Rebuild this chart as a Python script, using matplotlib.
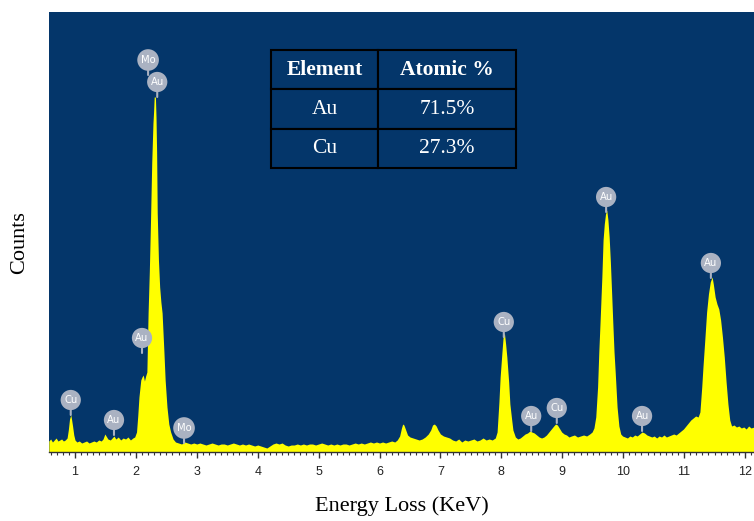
import matplotlib
matplotlib.use("Agg")
import matplotlib.pyplot as plt
from matplotlib.ticker import MultipleLocator

# EDS spectrum (energy in keV, counts in arbitrary units)
energy_kev = [
    0.57, 0.60, 0.63, 0.66, 0.69, 0.72, 0.75, 0.78, 0.81, 0.84, 0.87,
    0.89, 0.91, 0.93, 0.94, 0.96, 0.98, 1.00, 1.03,
    1.07, 1.11, 1.15, 1.19, 1.23, 1.27, 1.31, 1.35, 1.39, 1.43, 1.46, 1.49, 1.51,
    1.54, 1.58, 1.61, 1.64, 1.67, 1.71, 1.75, 1.79, 1.83, 1.87, 1.91, 1.95, 1.98,
    2.01, 2.03, 2.05, 2.08, 2.10, 2.12, 2.14, 2.16, 2.18, 2.20, 2.22, 2.24, 2.26,
    2.28, 2.29, 2.30, 2.32, 2.33, 2.34, 2.35, 2.37, 2.39, 2.41, 2.43, 2.46, 2.48,
    2.51, 2.54, 2.57, 2.61, 2.65,
    2.70, 2.75, 2.80, 2.85, 2.90, 2.95, 3.00, 3.05, 3.10, 3.15, 3.20, 3.25,
    3.30, 3.35, 3.40, 3.45, 3.50, 3.55, 3.60, 3.65, 3.70, 3.75, 3.80, 3.85,
    3.90, 3.95, 4.00, 4.05, 4.10, 4.15, 4.20, 4.25, 4.30, 4.35, 4.40, 4.45,
    4.50, 4.55, 4.60, 4.65, 4.70, 4.75, 4.80, 4.85, 4.90, 4.95, 5.00, 5.05,
    5.10, 5.15, 5.20, 5.25, 5.30, 5.35, 5.40, 5.45, 5.50, 5.55, 5.60, 5.65,
    5.70, 5.75, 5.80, 5.85, 5.90, 5.95, 6.00, 6.05, 6.10, 6.15, 6.20, 6.25,
    6.29, 6.33, 6.36, 6.38, 6.40, 6.43, 6.46, 6.50, 6.55, 6.60, 6.65, 6.70,
    6.75, 6.80, 6.84, 6.87, 6.90, 6.93, 6.96, 7.00, 7.05, 7.10, 7.15,
    7.20, 7.25, 7.30, 7.35, 7.40, 7.45, 7.50, 7.55, 7.60, 7.65, 7.70, 7.75,
    7.80, 7.85, 7.90,
    7.93, 7.96, 7.98, 8.01, 8.03, 8.05, 8.07, 8.09, 8.12, 8.14, 8.17, 8.19,
    8.23, 8.27, 8.31, 8.35, 8.39, 8.43, 8.47, 8.50, 8.54, 8.58, 8.62, 8.66,
    8.70, 8.74, 8.78, 8.82, 8.86, 8.89, 8.92, 8.95, 8.99, 9.03, 9.07, 9.11,
    9.15, 9.20, 9.25, 9.30, 9.35, 9.40, 9.45, 9.49,
    9.52, 9.55, 9.58, 9.60, 9.62, 9.65, 9.67, 9.69, 9.71, 9.73, 9.75, 9.77,
    9.79, 9.81, 9.83, 9.85, 9.87, 9.90, 9.93, 9.96, 9.99,
    10.03, 10.07, 10.11, 10.15, 10.19, 10.23, 10.27, 10.31, 10.35, 10.39,
    10.43, 10.47, 10.51, 10.55, 10.59, 10.63, 10.67, 10.71, 10.75, 10.79,
    10.83, 10.87, 10.91, 10.95, 10.99, 11.03, 11.07,
    11.11, 11.15, 11.19, 11.23, 11.26, 11.29, 11.31, 11.34, 11.37, 11.40,
    11.43, 11.46, 11.48, 11.51, 11.54, 11.57, 11.60, 11.63, 11.66, 11.69,
    11.72, 11.75, 11.78,
    11.82, 11.86, 11.90, 11.94, 11.98, 12.02, 12.06, 12.10, 12.15,
]
counts = [
    11, 13, 10, 12, 14, 11, 12, 13, 11, 12, 14,
    22, 33, 37, 34, 26, 17, 12, 10,
    11, 9, 10, 11, 9, 10, 11, 10, 12, 11, 13, 18, 16,
    13, 12, 14, 16, 13, 15, 12, 14, 13, 15, 12, 14, 15,
    20, 36, 55, 72, 75, 77, 71, 76, 80, 139, 180, 232, 290,
    329, 340, 355, 355, 335, 300, 239, 192, 165, 150, 139, 100, 72,
    45, 28, 20, 13, 10,
    9, 8, 10, 9, 8, 9, 8, 9, 8, 7, 8, 9,
    8, 7, 8, 8, 7, 8, 9, 8, 7, 8, 7, 8,
    7, 6, 7, 6, 5, 4, 6, 8, 9, 8, 9, 7,
    6, 7, 7, 8, 7, 8, 7, 8, 8, 7, 8, 9,
    8, 7, 8, 7, 8, 7, 8, 8, 7, 8, 9, 8,
    9, 8, 9, 10, 9, 10, 9, 10, 9, 10, 11, 10,
    12, 16, 24, 28, 27, 22, 17, 15, 14, 13, 12, 13,
    15, 18, 22, 27, 28, 26, 22, 18, 16, 15, 14,
    12, 11, 13, 10, 12, 11, 12, 13, 11, 12, 14, 12,
    13, 12, 14,
    20, 50, 75, 100, 116, 119, 108, 95, 70, 48, 32, 22,
    15, 13, 14, 16, 18, 19, 21, 20, 19, 17, 15, 14,
    15, 17, 20, 23, 26, 28, 27, 24, 20, 18, 17, 15,
    16, 17, 15, 16, 17, 16, 18, 20,
    24, 35, 65, 100, 129, 175, 212, 228, 238, 242, 232, 215,
    190, 160, 129, 100, 79, 45, 26, 18, 16,
    15, 14, 16, 15, 17, 16, 18, 20, 19, 17,
    16, 15, 16, 14, 16, 15, 17, 15, 16, 17,
    18, 17, 19, 21, 23, 26, 29,
    32, 34, 36, 35, 40, 65, 85, 112, 140, 158,
    170, 175, 168, 155, 148, 143, 132, 115, 95, 70,
    48, 32, 26,
    27, 25, 26, 24, 25, 23, 26, 24, 25,
]
assert len(energy_kev) == len(counts)

# peak markers: element, energy, count at the tip of the stem
peak_names = ["Cu", "Au", "Mo", "Au", "Au", "Mo", "Cu", "Au", "Cu", "Au", "Au", "Au"]
peak_kev = [0.93, 1.64, 2.20, 2.35, 2.10, 2.79, 8.04, 8.49, 8.91, 9.72, 10.31, 11.44]
peak_tip = [37, 17, 377, 355, 99, 9, 115, 21, 29, 240, 21, 174]

# composition table
table_header = ["Element", "Atomic %"]
table_elements = ["Au", "Cu"]
table_atomic = ["71.5%", "27.3%"]

bg_blue = "#04366a"
fill_yellow = "#ffff00"
tag_grey = "#aab2c2"

fig = plt.figure(figsize=(7.54, 5.21), dpi=100)
ax = fig.add_axes([49 / 754, 69 / 521, 705 / 754, 440 / 521])
ax.set_facecolor(bg_blue)

ax.fill_between(energy_kev, counts, 0, color=fill_yellow, linewidth=0)

for name, e, tip in zip(peak_names, peak_kev, peak_tip):
    ax.annotate(name, xy=(e, tip), xytext=(0, 15), textcoords="offset pixels",
                ha="center", va="center", color="white", fontsize=7.2,
                family="DejaVu Sans",
                bbox=dict(boxstyle="circle,pad=0.35", fc=tag_grey, ec="none"),
                arrowprops=dict(arrowstyle="-", color=tag_grey, lw=1.5,
                                shrinkA=0, shrinkB=0))

ax.set_xlim(0.573, 12.148)
ax.set_ylim(0, 440)
ax.set_xticks(range(1, 13))
ax.xaxis.set_minor_locator(MultipleLocator(0.1))
ax.set_yticks([])
ax.tick_params(axis="x", which="major", direction="out", length=4, width=1,
               color="#333333", labelsize=9, labelcolor="#222222", pad=6)
ax.tick_params(axis="x", which="minor", direction="out", length=2.5, width=0.8,
               color="#333333")
for lab in ax.get_xticklabels():
    lab.set_family("Liberation Sans")
for side in ["top", "right", "left"]:
    ax.spines[side].set_visible(False)
ax.spines["bottom"].set_color("#333333")
ax.spines["bottom"].set_linewidth(1)

ax.set_xlabel("Energy Loss (KeV)", family="Liberation Serif", fontsize=16)
ax.xaxis.set_label_coords(0.5, -0.1)
ax.set_ylabel("Counts", family="Liberation Serif", fontsize=16, va="center")
ax.yaxis.set_label_coords(-0.042, 0.475)

rows = [[el, at] for el, at in zip(table_elements, table_atomic)]
tab = ax.table(cellText=rows, colLabels=table_header, cellLoc="center",
               colWidths=[107 / 245, 138 / 245],
               bbox=[222 / 705, 284 / 440, 245 / 705, 118 / 440])
tab.auto_set_font_size(False)
for (r, c), cell in tab.get_celld().items():
    cell.set_facecolor(bg_blue)
    cell.set_edgecolor("black")
    cell.set_linewidth(1.5)
    txt = cell.get_text()
    txt.set_color("white")
    txt.set_family("Liberation Serif")
    txt.set_fontsize(15.5)
    if r == 0:
        txt.set_fontweight("bold")

fig.savefig("out.png", dpi=100)
